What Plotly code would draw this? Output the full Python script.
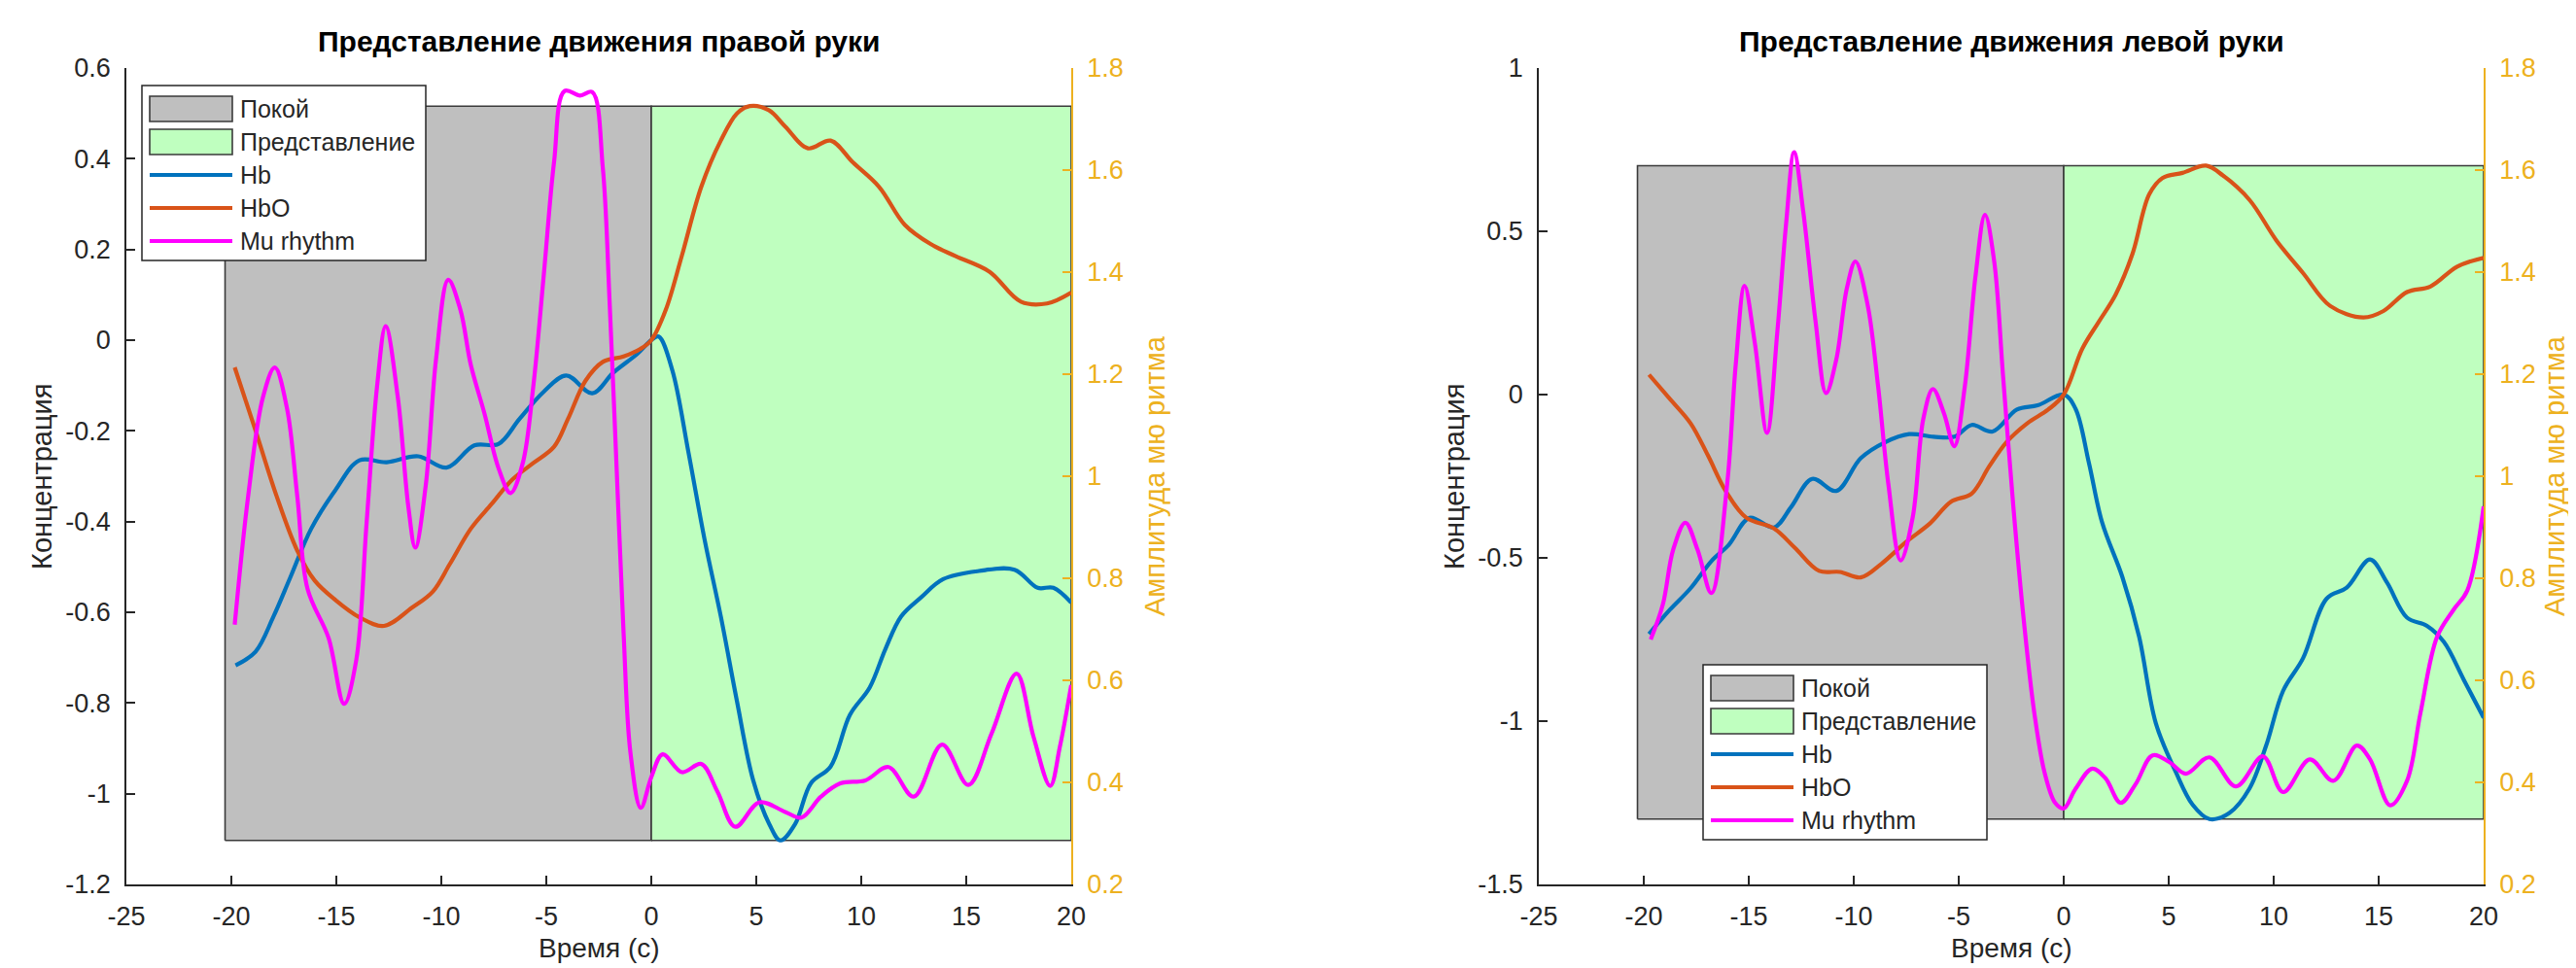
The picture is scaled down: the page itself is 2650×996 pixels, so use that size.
import plotly.graph_objects as go

# ---------------- data: right-hand imagery (left panel) ----------------
t_hb_right = [-19.8, -18.85, -18.0, -17.2, -16.2, -15.05, -13.9, -12.6, -11.1, -9.75, -8.43, -7.28,
              -6.28, -5.13, -4.05, -2.81, -1.82, -0.66, 0.0, 0.35, 1.0, 1.77, 2.54, 3.31, 4.08, 4.85,
              5.62, 6.15, 6.85, 7.6, 8.54, 9.46, 10.4, 11.15, 11.9, 12.85, 13.9, 15.6, 17.3, 18.4,
              19.15, 20.0]
hb_right = [-0.717, -0.687, -0.61, -0.524, -0.416, -0.331, -0.265, -0.269, -0.256, -0.281, -0.232,
            -0.229, -0.174, -0.114, -0.078, -0.117, -0.072, -0.03, 0.0, 0.008, -0.066, -0.247, -0.44,
            -0.609, -0.796, -0.97, -1.067, -1.103, -1.067, -0.977, -0.94, -0.826, -0.766, -0.681,
            -0.609, -0.567, -0.527, -0.509, -0.506, -0.546, -0.546, -0.579]

t_hbo_right = [-19.84, -18.85, -17.85, -16.86, -16.03, -15.04, -13.9, -12.73, -11.4, -10.4, -9.6,
               -8.6, -7.6, -6.61, -5.62, -4.63, -3.97, -3.14, -2.31, -1.32, -0.54, 0.0, 0.69, 1.46,
               2.38, 3.31, 4.08, 4.69, 5.6, 6.38, 7.46, 8.54, 9.6, 10.85, 12.08, 13.3, 14.5, 16.1,
               17.6, 18.85, 20.0]
hbo_right = [-0.06, -0.199, -0.343, -0.464, -0.53, -0.573, -0.611, -0.63, -0.59, -0.554, -0.494,
             -0.416, -0.361, -0.307, -0.271, -0.235, -0.174, -0.09, -0.048, -0.036, -0.02, 0.0,
             0.067, 0.187, 0.338, 0.44, 0.50, 0.516, 0.507, 0.471, 0.423, 0.44, 0.392, 0.338,
             0.254, 0.212, 0.185, 0.151, 0.085, 0.081, 0.105]

t_mu_right = [-19.84, -19.2, -18.5, -17.93, -17.35, -16.86, -16.37, -15.37, -14.63, -14.05, -13.56,
              -13.06, -12.65, -12.07, -11.57, -11.24, -10.74, -10.25, -9.67, -9.09, -8.6, -7.94,
              -7.27, -6.7, -6.12, -5.62, -5.13, -4.63, -4.13, -3.39, -2.81, -2.31, -1.98, -1.65,
              -1.32, -0.99, -0.5, 0.0, 0.54, 1.46, 2.38, 3.15, 4.0, 5.15, 6.38, 7.15, 8.08, 9.0,
              10.2, 11.3, 12.5, 13.85, 15.1, 16.2, 17.4, 18.2, 19.0, 19.46, 20.0]
mu_right = [0.709, 0.961, 1.154, 1.213, 1.133, 0.961, 0.779, 0.683, 0.554, 0.64, 0.908, 1.176,
            1.294, 1.154, 0.94, 0.86, 0.983, 1.23, 1.385, 1.326, 1.219, 1.122, 1.015, 0.967, 1.026,
            1.176, 1.39, 1.616, 1.755, 1.746, 1.753, 1.605, 1.337, 1.015, 0.693, 0.457, 0.35, 0.41,
            0.455, 0.42, 0.436, 0.382, 0.313, 0.361, 0.342, 0.331, 0.372, 0.398, 0.404, 0.43,
            0.372, 0.474, 0.395, 0.495, 0.613, 0.49, 0.393, 0.47, 0.591]

# ---------------- data: left-hand imagery (right panel) ----------------
t_hb_left = [-19.75, -18.76, -17.77, -16.78, -15.95, -14.96, -13.8, -12.98, -11.98, -10.83, -9.67,
             -8.51, -7.36, -6.2, -5.2, -4.38, -3.39, -2.23, -1.24, 0.0, 0.56, 1.2, 1.83, 2.79, 3.59,
             4.39, 5.34, 6.14, 6.94, 7.89, 8.85, 9.65, 10.45, 11.4, 12.52, 13.48, 14.59, 15.39,
             16.35, 17.3, 18.1, 19.06, 20.0]
hb_left = [-0.733, -0.659, -0.593, -0.51, -0.46, -0.377, -0.407, -0.344, -0.258, -0.295, -0.195,
           -0.146, -0.121, -0.129, -0.129, -0.093, -0.113, -0.046, -0.033, 0.0, -0.043, -0.209,
           -0.392, -0.558, -0.741, -1.007, -1.156, -1.256, -1.3, -1.281, -1.206, -1.073, -0.907,
           -0.807, -0.625, -0.591, -0.505, -0.575, -0.683, -0.708, -0.757, -0.874, -0.99]

t_hbo_left = [-19.75, -18.76, -17.77, -16.94, -16.1, -15.12, -13.8, -12.81, -11.65, -10.66, -9.67,
              -8.68, -7.52, -6.36, -5.37, -4.38, -3.55, -2.73, -1.74, -0.74, 0.0, 0.88, 1.67, 2.47,
              3.27, 4.07, 4.7, 5.66, 6.78, 7.58, 8.85, 10.13, 11.4, 12.68, 14.27, 15.23, 16.35,
              17.46, 18.74, 20.0]
hbo_left = [0.061, -0.013, -0.088, -0.187, -0.295, -0.377, -0.41, -0.469, -0.54, -0.543, -0.56,
            -0.518, -0.452, -0.394, -0.328, -0.303, -0.22, -0.146, -0.088, -0.046, 0.0, 0.14,
            0.223, 0.306, 0.43, 0.613, 0.663, 0.679, 0.701, 0.671, 0.596, 0.472, 0.372, 0.272,
            0.236, 0.256, 0.314, 0.331, 0.392, 0.419]

t_mu_left = [-19.67, -19.09, -18.6, -18.02, -17.44, -16.78, -16.03, -15.62, -15.2, -14.71, -14.13,
             -13.64, -13.22, -12.84, -12.4, -11.82, -11.32, -10.83, -10.33, -9.92, -9.34, -8.84,
             -8.35, -7.77, -7.19, -6.69, -6.23, -5.7, -5.21, -4.71, -4.21, -3.75, -3.31, -2.89,
             -2.4, -1.9, -1.4, -0.91, -0.41, 0.0, 0.56, 1.36, 1.99, 2.71, 3.43, 4.23, 5.02, 5.82,
             6.94, 8.21, 9.49, 10.45, 11.72, 12.84, 13.96, 14.59, 15.55, 16.35, 16.99, 17.78,
             18.58, 19.22, 20.0]
mu_left = [0.68, 0.749, 0.856, 0.909, 0.856, 0.771, 0.984, 1.219, 1.373, 1.261, 1.085, 1.283,
           1.496, 1.635, 1.517, 1.304, 1.163, 1.229, 1.368, 1.421, 1.336, 1.176, 0.984, 0.835,
           0.92, 1.112, 1.171, 1.123, 1.059, 1.176, 1.389, 1.512, 1.421, 1.197, 0.941, 0.717,
           0.536, 0.419, 0.36, 0.349, 0.387, 0.427, 0.408, 0.36, 0.397, 0.453, 0.44, 0.417,
           0.449, 0.392, 0.451, 0.381, 0.445, 0.403, 0.472, 0.445, 0.355, 0.403, 0.536, 0.685,
           0.739, 0.776, 0.941]

# phases (s)
rest_start, task_onset, task_end = -20.3, 0.0, 20.0

# tick labels
x_ticks = [-25, -20, -15, -10, -5, 0, 5, 10, 15, 20]
y_ticks_right = [-1.2, -1.0, -0.8, -0.6, -0.4, -0.2, 0.0, 0.2, 0.4, 0.6]
y_ticks_left = [-1.5, -1.0, -0.5, 0.0, 0.5, 1.0]
mu_ticks = [0.2, 0.4, 0.6, 0.8, 1.0, 1.2, 1.4, 1.6, 1.8]

titles = ["Представление движения правой руки", "Представление движения левой руки"]
legend_names = ["Покой", "Представление", "Hb", "HbO", "Mu rhythm"]

# ---------------- style ----------------
FONT = "Liberation Sans, Arial, sans-serif"
C_HB, C_HBO, C_MU = "#0072BD", "#D95319", "#FF00FF"
C_REST, C_TASK = "#BFBFBF", "#BFFFBF"
C_AX, C_GOLD = "#262626", "#EDB120"
C_EDGE = "#3a3a3a"
LW = 4.2
legend_colors = [C_REST, C_TASK, C_HB, C_HBO, C_MU]

# page is 2650x996; the html body has an 8px margin, so the figure is shrunk by it
PAGE_W, PAGE_H, OFF = 2650, 996, 8
W, H = PAGE_W - OFF, PAGE_H - OFF


def px(xp):  # page pixel -> paper fraction
    return (xp - OFF) / W


def py(yp):
    return 1 - (yp - OFF) / H


def fmt(v):
    return "%g" % round(v, 2)


fig = go.Figure()

panels = [
    dict(xa="x", ya="y", ya2="y2",
         thb=t_hb_right, hb=hb_right, thbo=t_hbo_right, hbo=hbo_right, tmu=t_mu_right, mu=mu_right),
    dict(xa="x2", ya="y3", ya2="y4",
         thb=t_hb_left, hb=hb_left, thbo=t_hbo_left, hbo=hbo_left, tmu=t_mu_left, mu=mu_left),
]

for p in panels:
    lo = min(min(p["hb"]), min(p["hbo"]))
    hi = max(max(p["hb"]), max(p["hbo"]))
    for name, x0, x1, col in [(legend_names[0], rest_start, task_onset, C_REST),
                              (legend_names[1], task_onset, task_end, C_TASK)]:
        fig.add_trace(go.Scatter(
            x=[x0, x1, x1, x0, x0], y=[lo, lo, hi, hi, lo], mode="lines", fill="toself",
            fillcolor=col, line=dict(color=C_EDGE, width=1.6), name=name,
            xaxis=p["xa"], yaxis=p["ya"], hoverinfo="skip", showlegend=False))
    fig.add_trace(go.Scatter(x=p["thb"], y=p["hb"], mode="lines", name=legend_names[2],
                             line=dict(color=C_HB, width=LW, shape="spline", smoothing=1.0),
                             xaxis=p["xa"], yaxis=p["ya"], showlegend=False))
    fig.add_trace(go.Scatter(x=p["thbo"], y=p["hbo"], mode="lines", name=legend_names[3],
                             line=dict(color=C_HBO, width=LW, shape="spline", smoothing=1.0),
                             xaxis=p["xa"], yaxis=p["ya"], showlegend=False))
    fig.add_trace(go.Scatter(x=p["tmu"], y=p["mu"], mode="lines", name=legend_names[4],
                             line=dict(color=C_MU, width=LW, shape="spline", smoothing=1.0),
                             xaxis=p["xa"], yaxis=p["ya2"], showlegend=False))

px_l = [130, 1583]
px_r = [1102, 2555]
y_top, y_bot = 70, 910
ydom = [py(y_bot), py(y_top)]

TICK = 27
tickfont = dict(family=FONT, size=TICK, color=C_AX)
goldfont = dict(family=FONT, size=TICK, color=C_GOLD)

common_x = dict(range=[-25, 20], tickvals=x_ticks, ticktext=[fmt(v) for v in x_ticks],
                showline=True, linecolor=C_AX, linewidth=1.5, ticks="inside", ticklen=9,
                tickcolor=C_AX, tickwidth=1.5, showgrid=False, zeroline=False, tickfont=tickfont,
                ticklabelstandoff=8, automargin=False, fixedrange=True)

layout = dict(
    width=W, height=H, margin=dict(l=0, r=0, t=0, b=0, autoexpand=False), autosize=False,
    paper_bgcolor="white", plot_bgcolor="rgba(0,0,0,0)",
    font=dict(family=FONT, size=TICK, color=C_AX),
    xaxis=dict(domain=[px(px_l[0]), px(px_r[0])], anchor="y", **common_x),
    xaxis2=dict(domain=[px(px_l[1]), px(px_r[1])], anchor="y3", **common_x),
    yaxis=dict(domain=ydom, anchor="x", range=[-1.2, 0.6], tickvals=y_ticks_right,
               ticktext=[fmt(v) for v in y_ticks_right]),
    yaxis3=dict(domain=ydom, anchor="x2", range=[-1.5, 1.0], tickvals=y_ticks_left,
                ticktext=[fmt(v) for v in y_ticks_left]),
    yaxis2=dict(overlaying="y", anchor="x", side="right"),
    yaxis4=dict(overlaying="y3", anchor="x2", side="right"),
    showlegend=False,
)
for k in ["yaxis", "yaxis3"]:
    layout[k].update(showline=True, linecolor=C_AX, linewidth=1.5, ticks="inside", ticklen=9,
                     tickcolor=C_AX, tickwidth=1.5, showgrid=False, zeroline=False,
                     tickfont=tickfont, ticklabelstandoff=9, automargin=False, fixedrange=True)
for k in ["yaxis2", "yaxis4"]:
    layout[k].update(range=[0.2, 1.8], tickvals=mu_ticks, ticktext=[fmt(v) for v in mu_ticks],
                     showline=True, linecolor=C_GOLD, linewidth=1.5, ticks="inside", ticklen=9,
                     tickcolor=C_GOLD, tickwidth=1.5, showgrid=False, zeroline=False,
                     tickfont=goldfont, ticklabelstandoff=9, automargin=False, fixedrange=True)

fig.update_layout(**layout)

# ---------------- titles and axis labels ----------------
ycen = py((y_top + y_bot) / 2)
annots = []
shapes = []
right_label_x = [1188, 2628]
for i in range(2):
    cx = px((px_l[i] + px_r[i]) / 2)
    annots.append(dict(text="<b>" + titles[i] + "</b>", x=cx, y=py(43), xref="paper",
                       yref="paper", showarrow=False, font=dict(family=FONT, size=30, color="black"),
                       xanchor="center", yanchor="middle"))
    annots.append(dict(text="Время (с)", x=cx, y=py(975), xref="paper", yref="paper",
                       showarrow=False, font=dict(family=FONT, size=28, color=C_AX),
                       xanchor="center", yanchor="middle"))
    annots.append(dict(text="Концентрация", x=px(px_l[i] - 87), y=ycen, xref="paper",
                       yref="paper", showarrow=False, textangle=-90,
                       font=dict(family=FONT, size=29, color=C_AX), xanchor="center",
                       yanchor="middle"))
    annots.append(dict(text="Амплитуда мю ритма", x=px(right_label_x[i]), y=ycen,
                       xref="paper", yref="paper", showarrow=False, textangle=-90,
                       font=dict(family=FONT, size=29, color=C_GOLD), xanchor="center",
                       yanchor="middle"))

# ---------------- legends (MATLAB-style boxes) ----------------
legend_boxes = [(146, 88), (1752, 684)]   # top-left corner, page px
LEG_W, LEG_H, ROW0, ROW = 292, 180, 24, 34

for (lx, ly) in legend_boxes:
    shapes.append(dict(type="rect", xref="paper", yref="paper", x0=px(lx), x1=px(lx + LEG_W),
                       y0=py(ly), y1=py(ly + LEG_H), fillcolor="white",
                       line=dict(color=C_AX, width=1.5), layer="above"))
    for j, (name, col) in enumerate(zip(legend_names, legend_colors)):
        cy = ly + ROW0 + ROW * j
        if j < 2:
            shapes.append(dict(type="rect", xref="paper", yref="paper", x0=px(lx + 8),
                               x1=px(lx + 93), y0=py(cy - 13), y1=py(cy + 13), fillcolor=col,
                               line=dict(color=C_EDGE, width=1.6), layer="above"))
        else:
            shapes.append(dict(type="line", xref="paper", yref="paper", x0=px(lx + 8),
                               x1=px(lx + 93), y0=py(cy), y1=py(cy),
                               line=dict(color=col, width=LW), layer="above"))
        annots.append(dict(text=name, x=px(lx + 99), y=py(cy), xref="paper", yref="paper",
                           showarrow=False, xanchor="left", yanchor="middle",
                           font=dict(family=FONT, size=25, color=C_AX)))

fig.update_layout(annotations=annots, shapes=shapes)

fig.write_html("out.html")
